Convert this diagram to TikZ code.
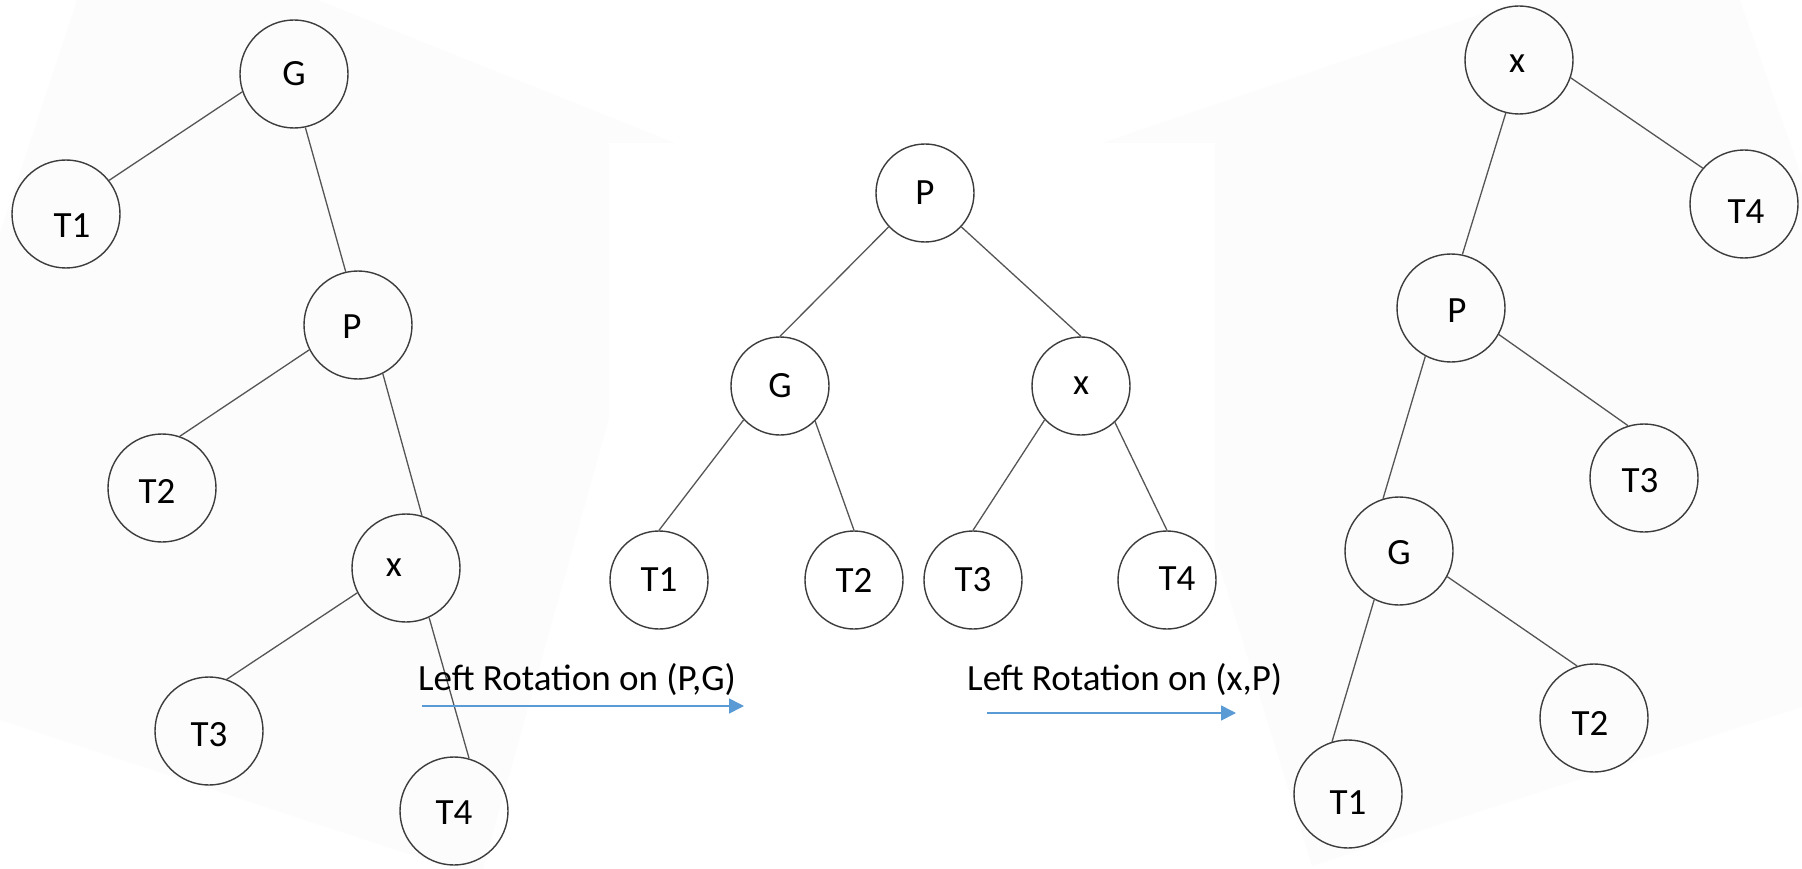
\documentclass[tikz,border=0pt]{standalone}
\usepackage{fontspec}
\setmainfont{Carlito}
\usetikzlibrary{arrows.meta,calc}
\definecolor{edgec}{HTML}{555555}
\definecolor{circc}{HTML}{3C3C3C}
\definecolor{arrc}{HTML}{5B9BD5}
\definecolor{bgc}{HTML}{FCFCFC}
\newcommand\tnode[5]{%
  \node[circ,minimum size=#2] (#1) at (#3) {};
  \node[lbl] (#1-t) at ($(#1)+(#4)$) {#5};}
\begin{document}
\begin{tikzpicture}[x=1pt,y=-1pt,
  circ/.style={circle,draw=circc,line width=1.4pt,inner sep=0pt},
  lbl/.style={font=\fontsize{37}{40}\selectfont,inner sep=0pt,text=black},
  edge/.style={draw=edgec,line width=1.3pt},
  arr/.style={draw=arrc,line width=1.6pt,-{Triangle[length=15pt,width=15pt]}},
  caption/.style={font=\fontsize{37}{40}\selectfont,inner sep=0pt,anchor=base west}]
\useasboundingbox (0,0) rectangle (1802,869);
% faint backgrounds of the three pasted pictures
\fill[bgc] (77,0) -- (318,0) -- (685,147) -- (483,869) -- (454,869) -- (0,720) -- (0,233) -- cycle;
\fill[bgc] (1090,147) -- (1522,0) -- (1740,0) -- (1802,177) -- (1802,707) -- (1312,866) -- cycle;
\fill[white] (609,143) rectangle (1215,690);

% ---------- left tree ----------
\tnode{lG}{108pt}{294,74}{0,0}{G}
\tnode{lT1}{108pt}{66,214}{6,12}{T1}
\tnode{lP}{108pt}{358,325}{-6,2}{P}
\tnode{lT2}{108pt}{162,488}{-5,3}{T2}
\tnode{lx}{108pt}{406,568}{-12,0}{x}
\tnode{lT3}{108pt}{209,731}{0,4}{T3}
\tnode{lT4}{108pt}{454,811}{0,2}{T4}
\draw[edge] (lG.199) -- (lT1.38);
\draw[edge] (lG.282) -- (lP.103);
\draw[edge] (lP.207) -- (lT2.71);
\draw[edge] (lP.297) -- (lx.73);
\draw[edge] (lx.207) -- (lT3.71);
\draw[edge] (lx.295) -- (lT4.74);

% ---------- middle tree ----------
\tnode{mP}{98pt}{925,193}{0,0}{P}
\tnode{mG}{98pt}{780,386}{0,0}{G}
\tnode{mx}{98pt}{1081,386}{0,0}{x}
\tnode{mT1}{98pt}{659,580}{0,0}{T1}
\tnode{mT2}{98pt}{854,580}{0,0}{T2}
\tnode{mT3}{98pt}{973,580}{0,0}{T3}
\tnode{mT4}{98pt}{1167,580}{10,-1}{T4}
\draw[edge] (mP.223) -- (mG.north);
\draw[edge] (mP.317) -- (mx.north);
\draw[edge] (mG.223) -- (mT1.north);
\draw[edge] (mG.315) -- (mT2.north);
\draw[edge] (mx.223) -- (mT3.north);
\draw[edge] (mx.313) -- (mT4.north);

% ---------- right tree ----------
\tnode{rx}{108pt}{1519,60}{-2,4}{x}
\tnode{rT4}{108pt}{1744,204}{2,8}{T4}
\tnode{rP}{108pt}{1451,308}{6,3}{P}
\tnode{rT3}{108pt}{1644,478}{-4,3}{T3}
\tnode{rG}{108pt}{1399,551}{0,2}{G}
\tnode{rT2}{108pt}{1594,718}{-4,5}{T2}
\tnode{rT1}{108pt}{1348,794}{0,9}{T1}
\draw[edge] (rx.341) -- (rT4.139);
\draw[edge] (rx.256) -- (rP.78);
\draw[edge] (rP.331) -- (rT3.107);
\draw[edge] (rP.242) -- (rG.107);
\draw[edge] (rG.332) -- (rT2.108);
\draw[edge] (rG.243) -- (rT1.107);

% ---------- rotation arrows ----------
\node[caption] (lab1) at (418,690) {Left Rotation on (P,G)};
\coordinate (a1s) at (422,706);
\coordinate (a1e) at (744,706);
\draw[arr] (a1s) -- (a1e);
\node[caption] (lab2) at (967,690) {Left Rotation on (x,P)};
\coordinate (a2s) at (987,713);
\coordinate (a2e) at (1236,713);
\draw[arr] (a2s) -- (a2e);
\end{tikzpicture}
\end{document}
